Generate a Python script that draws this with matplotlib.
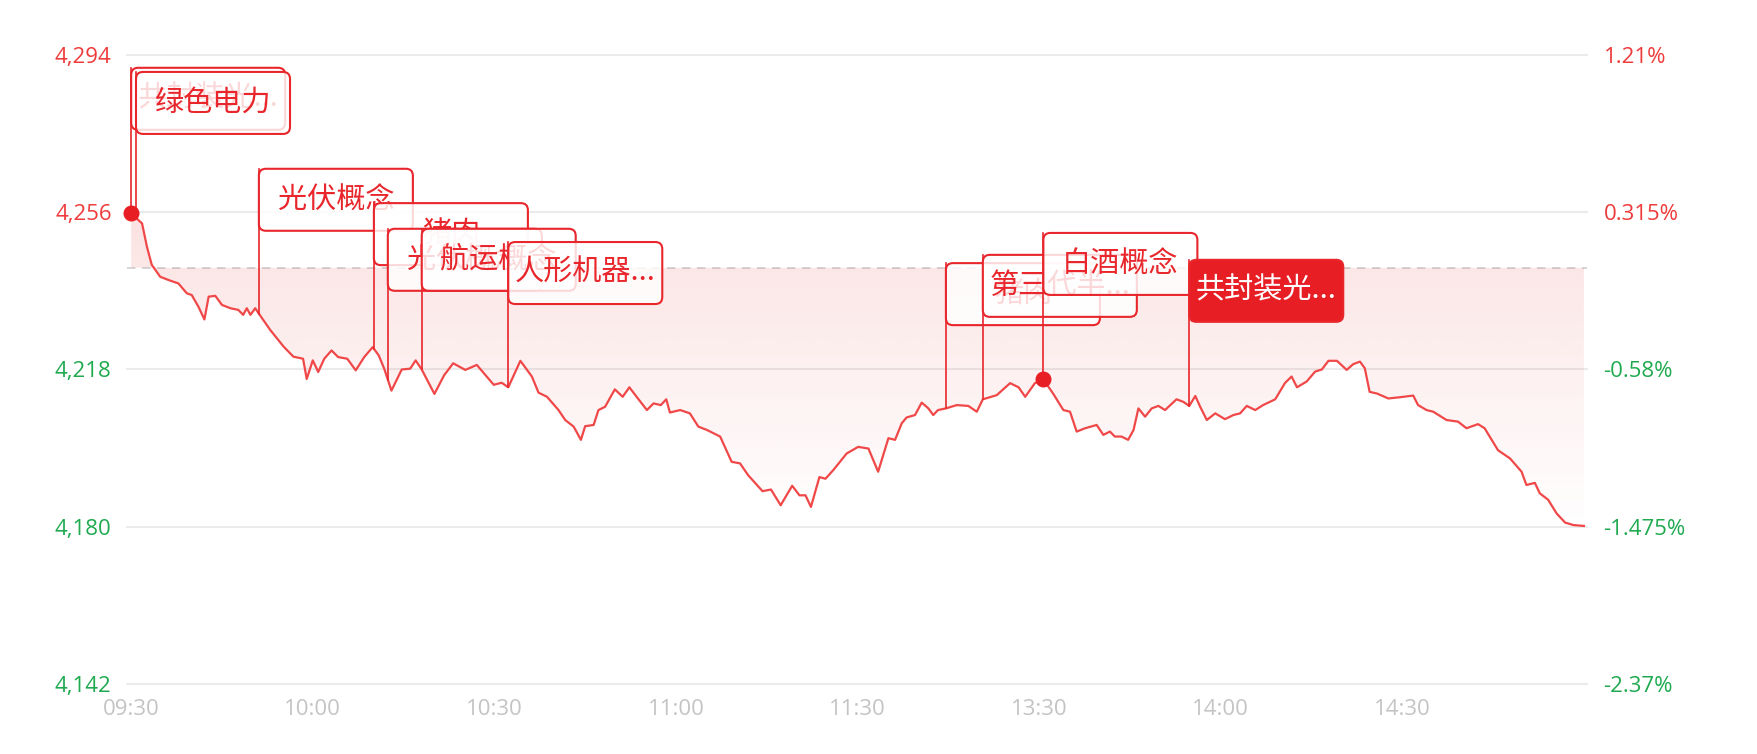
import numpy as np
import matplotlib.pyplot as plt
from matplotlib.patches import FancyBboxPatch
from matplotlib.transforms import ScaledTranslation
from matplotlib.colors import to_rgb

plt.rcParams['font.family'] = ['Noto Sans CJK SC', 'DejaVu Sans']

# trading minutes from 09:30 (lunch break removed) and index level
minutes = [0, 1.8, 2.6, 3.4, 4.8, 6.4, 7.8, 9.2, 10.0, 11.1, 12.1, 12.8, 13.9, 15.0,
           16.4, 17.7, 18.5, 19.1, 19.7, 20.5, 21.0, 23.0, 25.2, 26.8, 28.4, 29.0,
           30.0, 30.9, 31.9, 33.1, 34.2, 35.7, 37.1, 38.5, 39.9, 40.9, 41.8, 43.0,
           44.7, 46.1, 47.0, 48.0, 50.1, 51.7, 53.2, 55.2, 57.1, 59.9, 61.2, 62.3,
           64.3, 66.2, 67.3, 68.7, 70.6, 71.7, 73.1, 74.3, 75.0, 76.4, 77.2, 78.3,
           79.9, 81.2, 82.3, 83.5, 85.2, 86.3, 87.5, 88.4, 89.0, 90.7, 92.3, 93.7,
           95.1, 97.3, 99.2, 100.6, 101.9, 104.3, 105.7, 107.3, 109.2, 110.4, 111.4,
           112.3, 113.7, 114.7, 116.0, 118.2, 120.1, 121.8, 123.4, 125.1, 126.2,
           127.3, 128.1, 129.5, 130.6, 131.7, 132.5, 133.3, 134.6, 136.4, 138.3,
           139.7, 140.7, 143.0, 145.2, 146.6, 147.7, 149.3, 150.7, 152.3, 154.0,
           155.1, 156.2, 157.6, 159.5, 160.6, 161.7, 162.5, 163.6, 164.7, 165.6,
           166.4, 167.5, 168.6, 169.7, 170.8, 172.7, 173.8, 174.8, 175.8, 176.6,
           177.7, 179.1, 180.7, 182.1, 183.2, 184.3, 185.7, 187.0, 189.0, 190.6,
           191.7, 192.6, 194.2, 195.6, 196.7, 197.8, 199.2, 200.8, 201.9, 203.0,
           203.8, 204.6, 205.8, 207.7, 209.6, 211.8, 212.6, 214.0, 215.1, 217.3,
           219.2, 220.6, 222.5, 223.6, 225.8, 227.8, 229.7, 230.5, 231.9, 232.7,
           234.1, 235.5, 236.9, 238.3, 240.0]
prices = [4255.7, 4253.3, 4247.7, 4243.3, 4240.4, 4239.5, 4238.8, 4236.4, 4236.0, 4233.2,
          4230.1, 4235.6, 4235.8, 4233.6, 4232.8, 4232.4, 4231.2, 4232.8, 4231.2, 4232.8,
          4231.7, 4227.5, 4223.5, 4221.1, 4220.6, 4215.7, 4220.2, 4217.4, 4220.6, 4222.6,
          4221.0, 4220.6, 4217.8, 4221.0, 4223.4, 4221.4, 4218.2, 4212.9, 4218.0, 4218.2,
          4220.2, 4218.0, 4212.1, 4216.6, 4219.5, 4217.9, 4219.1, 4214.3, 4214.8, 4213.7,
          4220.1, 4216.3, 4212.4, 4211.4, 4208.2, 4205.8, 4204.2, 4201.0, 4204.3, 4204.6,
          4208.2, 4209.0, 4213.2, 4211.4, 4213.7, 4211.4, 4208.2, 4209.8, 4209.4, 4210.8,
          4207.6, 4208.2, 4207.4, 4204.2, 4203.4, 4201.8, 4195.7, 4195.3, 4192.5, 4188.6,
          4189.0, 4185.2, 4189.9, 4187.6, 4187.6, 4184.8, 4192.0, 4191.6, 4193.7, 4197.7,
          4199.3, 4198.9, 4193.3, 4201.4, 4201.0, 4205.0, 4206.4, 4207.0, 4210.0, 4208.6,
          4207.0, 4208.2, 4208.6, 4209.4, 4209.2, 4207.8, 4210.8, 4211.8, 4214.7, 4213.7,
          4211.4, 4214.7, 4215.6, 4212.2, 4208.2, 4207.8, 4203.0, 4203.8, 4204.6, 4202.2,
          4203.0, 4201.8, 4201.8, 4201.0, 4203.4, 4208.6, 4206.6, 4208.6, 4209.2, 4208.2,
          4210.8, 4210.2, 4209.2, 4211.6, 4209.0, 4205.8, 4207.4, 4206.0, 4207.0, 4207.4,
          4209.2, 4208.2, 4209.4, 4210.8, 4214.7, 4216.3, 4213.7, 4215.1, 4217.5, 4218.0,
          4220.1, 4220.1, 4217.9, 4219.3, 4219.9, 4218.3, 4212.6, 4212.2, 4211.0, 4211.3,
          4211.7, 4209.4, 4208.2, 4207.8, 4205.8, 4205.4, 4203.8, 4204.8, 4203.8, 4198.5,
          4196.5, 4193.3, 4190.1, 4190.6, 4188.1, 4186.5, 4183.2, 4181.0, 4180.4, 4180.2]
prev_close = 4242.6

price_ticks = [4142, 4180, 4218, 4256, 4294]
price_labels = ['4,142', '4,180', '4,218', '4,256', '4,294']
pct_labels = ['-2.37%', '-1.475%', '-0.58%', '0.315%', '1.21%']
time_ticks = [0, 30, 60, 90, 120, 150, 180, 210]
time_labels = ['09:30', '10:00', '10:30', '11:00', '11:30', '13:30', '14:00', '14:30']

# concept events on the timeline
event_minutes = [0, 0.8, 21.1, 40.1, 42.4, 48.0, 62.3, 134.6, 140.7, 150.7, 174.8]
event_names = ['共封装光...', '绿色电力', '光伏概念', '猪肉', '光伏概念', '航运概念',
               '人形机器...', '猪肉', '第三代半...', '白酒概念', '共封装光...']
# layout: top of each label box (in index points)
box_tops = [4290.9, 4289.9, 4266.5, 4258.2, 4252.0, 4252.0, 4248.8, 4243.7, 4245.7,
            4251.0, 4244.5]
highlight = 10
dot_events = [0, 9]

RED = '#ee3b3b'
GREEN = '#1faa4f'
LINE = '#f04848'

fig = plt.figure(figsize=(17.58, 7.54), dpi=100)
ax = fig.add_axes([0.0722, 0.0928, 0.8305, 0.8343])
ax.set_xlim(-0.7, 240.5)
ax.set_ylim(4142, 4294)

for t in price_ticks:
    ax.axhline(t, color='#ebebeb', lw=1.5, zorder=0, clip_on=False)
ax.axhline(prev_close, color='#cfcfcf', lw=1.2, ls=(0, (5, 4)), zorder=0.5)

# gradient fill between the line and previous close
poly = ax.fill_between(minutes, prices, prev_close, color='none', lw=0)
img = np.zeros((256, 1, 4))
img[..., :3] = to_rgb('#e83a3a')
img[..., 3] = np.linspace(0.0, 0.16, 256)[:, None]
im = ax.imshow(img, extent=[-0.7, 240.5, 4178, 4262], origin='lower',
               aspect='auto', zorder=1, interpolation='bilinear')
im.set_clip_path(poly.get_paths()[0], transform=ax.transData)
ax.set_xlim(-0.7, 240.5)
ax.set_ylim(4142, 4294)

ax.plot(minutes, prices, color=LINE, lw=1.6, zorder=3)

for i, m in enumerate(event_minutes):
    z = 4 + i
    yv = np.interp(m, minutes, prices)
    ax.plot([m, m], [yv, box_tops[i]], color='#e8262b', lw=1.2, zorder=z)
    tr = fig.dpi_scale_trans + ScaledTranslation(m, box_tops[i], ax.transData)
    filled = (i == highlight)
    box = FancyBboxPatch((0, -0.62), 1.54, 0.62,
                         boxstyle='round,pad=0,rounding_size=0.07',
                         transform=tr, lw=1.5, edgecolor='#e8262b',
                         facecolor='#e81e25' if filled else (1, 1, 1, 0.82),
                         zorder=z + 0.1, clip_on=False)
    ax.add_patch(box)
    ax.text(0.77, -0.31, event_names[i], transform=tr, ha='center', va='center',
            fontsize=21, color='white' if filled else '#e8262b', zorder=z + 0.2)

for i in dot_events:
    m = event_minutes[i]
    ax.plot(m, np.interp(m, minutes, prices), 'o', ms=10.5, color='#e81e25',
            zorder=20, clip_on=False)

for s in ax.spines.values():
    s.set_visible(False)
ax.tick_params(length=0)
ax.set_yticks(price_ticks)
ax.set_yticklabels(price_labels, fontfamily='Open Sans', fontsize=16)
ax.tick_params(axis='y', pad=11)
for lab, t in zip(ax.get_yticklabels(), price_ticks):
    lab.set_color(RED if t > prev_close else GREEN)
ax.set_xticks(time_ticks)
ax.set_xticklabels(time_labels, fontfamily='Open Sans', fontsize=16, color='#c4c4c4')
ax.tick_params(axis='x', pad=11)

ax2 = ax.twinx()
ax2.set_ylim(4142, 4294)
ax2.set_yticks(price_ticks)
ax2.set_yticklabels(pct_labels, fontfamily='Open Sans', fontsize=16)
for lab, t in zip(ax2.get_yticklabels(), price_ticks):
    lab.set_color(RED if t > prev_close else GREEN)
ax2.tick_params(length=0, pad=12)
for s in ax2.spines.values():
    s.set_visible(False)

fig.savefig('out.png', dpi=100, facecolor='white')
